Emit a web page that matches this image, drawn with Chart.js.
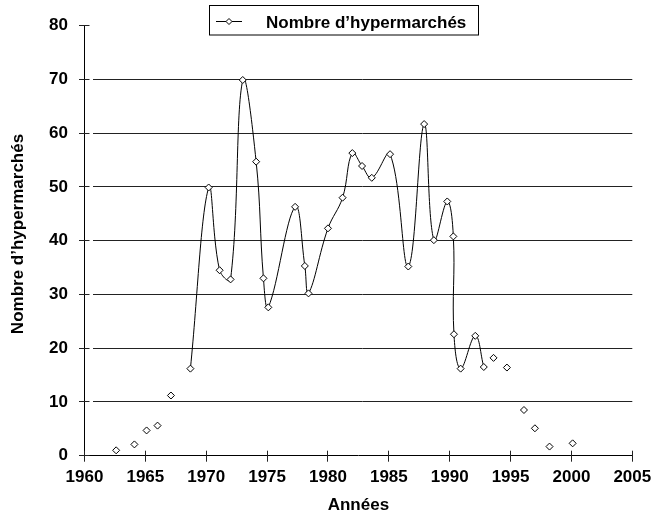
<!DOCTYPE html>
<html>
<head>
<meta charset="utf-8">
<script src="https://cdn.jsdelivr.net/npm/chart.js@4"></script>
<style>
  body { margin: 0; background: #fff; }
  #wrap { width: 654px; height: 517px; position: relative; }
</style>
</head>
<body>
<div id="wrap"><canvas id="chart"></canvas></div>
<script>
// part of the series joined by the smoothed line
const lineYears = [1968.7, 1970.2, 1971.1, 1972.0, 1973.0, 1974.1, 1974.7, 1975.1, 1977.3, 1978.1, 1978.4, 1980.0, 1981.2,
    1982.0, 1982.8, 1983.6, 1985.1, 1986.6, 1987.9, 1988.7, 1989.8, 1990.3, 1990.35, 1990.9, 1992.1, 1992.8];
const lineValues = [16.2, 49.9, 34.5, 32.8, 69.9, 54.7, 33.0, 27.6, 46.3, 35.3, 30.2, 42.3, 48.0,
    56.3, 53.9, 51.7, 56.1, 35.2, 61.7, 40.1, 47.3, 40.8, 22.6, 16.2, 22.3, 16.5];

// points shown without a line
const looseYears = [1962.6, 1964.1, 1965.1, 1966.0, 1967.1, 1993.6, 1994.7, 1996.1, 1997.0, 1998.2, 2000.1];
const looseValues = [1.0, 2.1, 4.7, 5.6, 11.2, 18.2, 16.4, 8.5, 5.1, 1.7, 2.3];

const xTicks = [1960, 1965, 1970, 1975, 1980, 1985, 1990, 1995, 2000, 2005];
const yTicks = [0, 10, 20, 30, 40, 50, 60, 70, 80];

const seriesLabel = 'Nombre d’hypermarchés';
const xTitle = 'Années';
const yTitle = 'Nombre d’hypermarchés';

const FONT = '"Liberation Sans", Arial, sans-serif';
const INK = '#000';
const GRID = '#222';

function toPoints(xs, ys) {
    return xs.map((x, i) => ({ x: x, y: ys[i] }));
}

function alignPx(p) {
    return Math.round(p - 0.5) + 0.5;
}

function diamond(ctx, cx, cy, r) {
    ctx.beginPath();
    ctx.moveTo(cx, cy - r);
    ctx.lineTo(cx + r, cy);
    ctx.lineTo(cx, cy + r);
    ctx.lineTo(cx - r, cy);
    ctx.closePath();
    ctx.fillStyle = '#fff';
    ctx.fill();
    ctx.stroke();
}

// gridlines with a small gap after the axis, and ticks that cross the axes
const framePlugin = {
    id: 'frame',
    beforeDatasetsDraw(chart) {
        const { ctx, chartArea: a, scales: { x, y } } = chart;
        ctx.save();
        ctx.strokeStyle = GRID;
        ctx.lineWidth = 1;
        ctx.beginPath();
        yTicks.forEach((v, i) => {
            const py = alignPx(y.getPixelForValue(v));
            if (i > 0 && i < yTicks.length - 1) {
                ctx.moveTo(a.left + 8.5, py);
                ctx.lineTo(a.right, py);
            }
            ctx.moveTo(a.left - 5.5, py);
            ctx.lineTo(a.left + 5, py);
        });
        xTicks.forEach((v) => {
            const px = alignPx(x.getPixelForValue(v));
            ctx.moveTo(px, a.bottom - 5);
            ctx.lineTo(px, a.bottom + 6);
        });
        ctx.stroke();
        ctx.restore();
    },
    afterDraw(chart) {
        const ctx = chart.ctx;
        ctx.save();

        // legend box
        ctx.lineWidth = 1;
        ctx.strokeStyle = INK;
        ctx.fillStyle = '#fff';
        ctx.fillRect(209.5, 5.5, 269, 29.5);
        ctx.strokeRect(209.5, 5.5, 269, 29.5);
        ctx.beginPath();
        ctx.moveTo(216, 21.5);
        ctx.lineTo(242, 21.5);
        ctx.stroke();
        diamond(ctx, 229, 21.5, 3);
        ctx.fillStyle = INK;
        ctx.font = 'bold 17px ' + FONT;
        ctx.textAlign = 'left';
        ctx.textBaseline = 'alphabetic';
        ctx.fillText(seriesLabel, 266, 27.5);

        // y axis title
        ctx.translate(22.7, 234);
        ctx.rotate(-Math.PI / 2);
        ctx.textAlign = 'center';
        ctx.fillText(yTitle, 0, 0);
        ctx.restore();
    }
};

const pointStyle = {
    pointStyle: 'rectRot',
    pointRadius: 3.5,
    pointHoverRadius: 3.5,
    pointBackgroundColor: '#fff',
    pointBorderColor: INK,
    pointBorderWidth: 1
};

const ctx = document.getElementById('chart').getContext('2d');

new Chart(ctx, {
    type: 'scatter',
    data: {
        datasets: [
            Object.assign({
                label: seriesLabel,
                data: toPoints(lineYears, lineValues),
                showLine: true,
                borderColor: INK,
                borderWidth: 1,
                tension: 0.4
            }, pointStyle),
            Object.assign({
                label: seriesLabel,
                data: toPoints(looseYears, looseValues),
                showLine: false
            }, pointStyle)
        ]
    },
    options: {
        responsive: true,
        maintainAspectRatio: false,
        animation: false,
        layout: {
            padding: { top: 25.7, right: 21.7, bottom: 0, left: 0 }
        },
        plugins: {
            legend: { display: false },
            tooltip: { enabled: false }
        },
        scales: {
            x: {
                type: 'linear',
                min: xTicks[0],
                max: xTicks[xTicks.length - 1],
                afterBuildTicks: (scale) => { scale.ticks = xTicks.map((v) => ({ value: v })); },
                afterFit: (scale) => {
                    scale.height = 517 - 455.7;
                    scale.paddingLeft = 0;
                    scale.paddingRight = 0;
                },
                grid: { display: false, drawTicks: false },
                border: { display: true, color: INK, width: 1 },
                ticks: {
                    color: INK,
                    padding: 11,
                    maxRotation: 0,
                    font: { family: FONT, size: 17, weight: 'bold' },
                    callback: (v) => String(v)
                },
                title: {
                    display: true,
                    text: xTitle,
                    color: INK,
                    padding: { top: 0, bottom: 1 },
                    font: { family: FONT, size: 17, weight: 'bold' }
                }
            },
            y: {
                min: yTicks[0],
                max: yTicks[yTicks.length - 1],
                afterBuildTicks: (scale) => { scale.ticks = yTicks.map((v) => ({ value: v })); },
                afterFit: (scale) => {
                    scale.width = 84.5;
                    scale.paddingTop = 0;
                    scale.paddingBottom = 0;
                },
                grid: { display: false, drawTicks: false },
                border: { display: true, color: INK, width: 1 },
                ticks: {
                    color: INK,
                    padding: 16.5,
                    font: { family: FONT, size: 17, weight: 'bold' }
                }
            }
        }
    },
    plugins: [framePlugin]
});
</script>
</body>
</html>
